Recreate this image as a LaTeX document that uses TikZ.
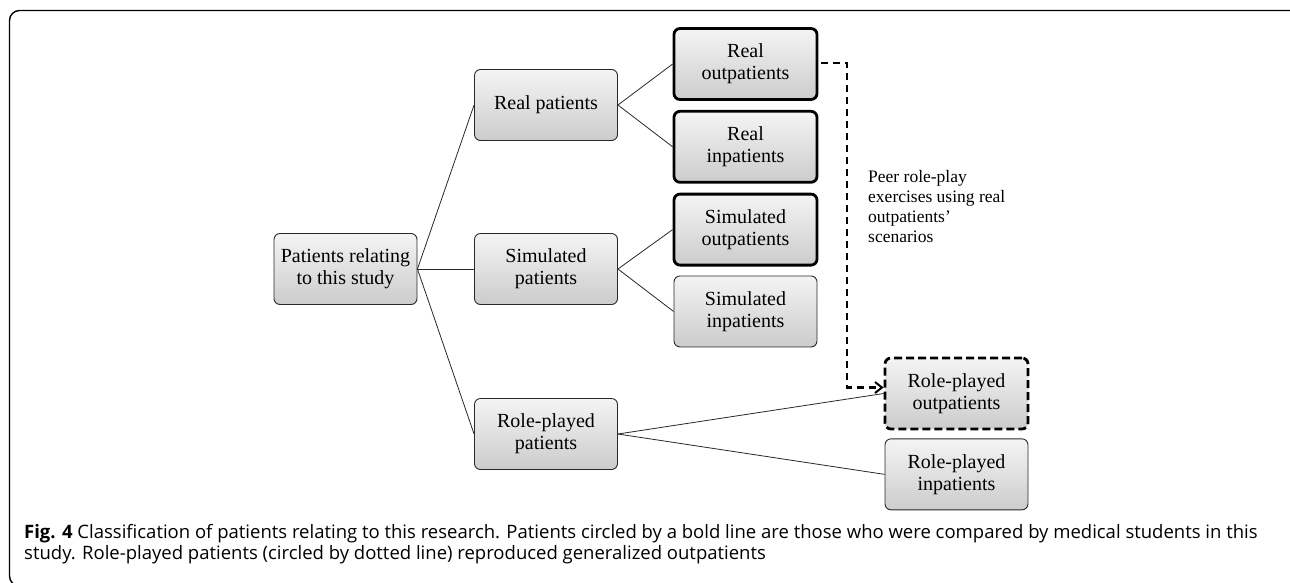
\documentclass[tikz,border=0pt]{standalone}
\usepackage{fontspec}
\setmainfont{Liberation Serif}
\newfontfamily\capfont{Open Sans}
\usepackage{tikz}
\usetikzlibrary{positioning, arrows.meta}
\usepackage{color}
\definecolor{box_top}{RGB}{244,244,244}
\definecolor{box_bottom}{RGB}{204,204,204}
\definecolor{box_line}{RGB}{40,40,40}

\tikzset{
	patientbox/.style={rectangle, rounded corners=6pt, draw=box_line, line width=0.9pt,
		top color=box_top, bottom color=box_bottom, minimum width=143pt, minimum height=71pt,
		align=center, inner sep=2pt, font=\fontsize{20}{22}\selectfont},
	boldbox/.style={patientbox, draw=black, line width=2.8pt},
	dashbox/.style={patientbox, draw=black, line width=2.8pt, dash pattern=on 8pt off 4pt},
	branch/.style={draw=box_line, line width=0.8pt},
	scenario/.style={draw=black, line width=2.2pt, dash pattern=on 7pt off 5pt,
		-{Straight Barb[length=7pt, width=11pt, line width=2pt]}}
}

\begin{document}
\begin{tikzpicture}[x=1pt, y=-1pt]
	\useasboundingbox (0,0) rectangle (1290,582);
	% --- Frame ---
	\draw[line width=1.4pt, rounded corners=10pt] (1300,10.5) -- (9.5,10.5) -- (9.5,586) -- (1300,586);

	% --- Begin Patients Tree ---
	\node [patientbox] (patients) at (345.5,269) {Patients relating\\to this study};
	\node [patientbox] (real) at (546,105) {Real patients};
	\node [patientbox] (simulated) at (546,269) {Simulated\\patients};
	\node [patientbox] (roleplayed) at (546,434) {Role-played\\patients};

	\node [boldbox] (real_out) at (745.5,64) {Real\\outpatients};
	\node [boldbox, below=9pt of real_out] (real_in) {Real\\inpatients};
	\node [boldbox, below=9pt of real_in] (simulated_out) {Simulated\\outpatients};
	\node [patientbox, below=9pt of simulated_out] (simulated_in) {Simulated\\inpatients};

	\node [dashbox] (roleplayed_out) at (956.5,393.5) {Role-played\\outpatients};
	\node [patientbox, below=8pt of roleplayed_out] (roleplayed_in) {Role-played\\inpatients};
	% --- End Patients Tree ---

	% Connect every parent to its children.
	\foreach \child in {real, simulated, roleplayed}
		\draw [branch] (patients.east) -- (\child.west);
	\draw [branch] (real.east) -- (real_out.west);
	\draw [branch] (real.east) -- (real_in.west);
	\draw [branch] (simulated.east) -- (simulated_out.west);
	\draw [branch] (simulated.east) -- (simulated_in.west);
	\draw [branch] (roleplayed.east) -- (roleplayed_out.west);
	\draw [branch] (roleplayed.east) -- (roleplayed_in.west);

	% Peer role-play arrow and its note.
	\coordinate (turn) at (847,63);
	\draw [scenario] ([xshift=3pt, yshift=1pt]real_out.east) -- (turn) |- ([yshift=6pt]roleplayed_out.west);
	\node [anchor=north west, align=left, inner sep=0pt, font=\fontsize{17.5}{20}\selectfont] (note) at (868,170)
		{Peer role-play\\exercises using real\\outpatients'\\scenarios};

	% Caption below the figure.
	\node [anchor=north west, align=left, inner sep=0pt, font=\capfont\fontsize{18.5}{21}\selectfont] (caption) at (24,524)
		{\textbf{Fig. 4} Classification of patients relating to this research. Patients circled by a bold line are those who were compared by medical students in this\\
		study. Role-played patients (circled by dotted line) reproduced generalized outpatients};
\end{tikzpicture}
\end{document}
